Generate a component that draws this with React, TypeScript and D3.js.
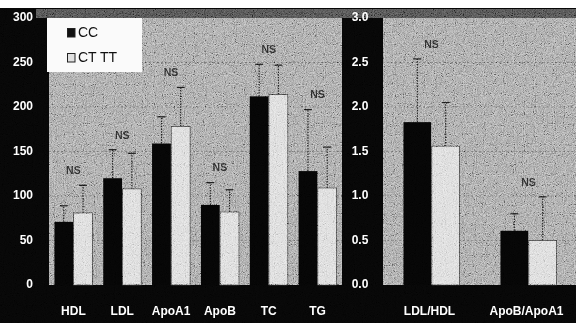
import React from 'react';
import * as d3 from 'd3';

// left panel (mg/dl)
const groupsLeft = ['HDL', 'LDL', 'ApoA1', 'ApoB', 'TC', 'TG'];
const ccLeft = [71, 120, 159, 90, 212, 128];
const ctLeft = [81, 108, 178, 82, 214, 109];
const ccSdLeft = [18, 32, 30, 25, 36, 69];
const ctSdLeft = [31, 40, 44, 25, 33, 46];
const ticksLeft = [0, 50, 100, 150, 200, 250, 300];

// right panel (ratios)
const groupsRight = ['LDL/HDL', 'ApoB/ApoA1'];
const ccRight = [1.83, 0.61];
const ctRight = [1.56, 0.5];
const ccSdRight = [0.71, 0.19];
const ctSdRight = [0.49, 0.49];
const ticksRight = [0, 0.5, 1.0, 1.5, 2.0, 2.5, 3.0];

const seriesNames = ['CC', 'CT TT'];

const W = 576;
const H = 323;
const yTop = 18;
const yBottom = 285;
const font = '"Liberation Sans", Arial, sans-serif';

type PanelProps = {
  groups: string[];
  cc: number[];
  ct: number[];
  ccSd: number[];
  ctSd: number[];
  ticks: number[];
  max: number;
  x0: number;
  x1: number;
  outer: number;
};

function Panel(p: PanelProps) {
  const y = d3.scaleLinear().domain([0, p.max]).range([yBottom, yTop]);
  const x = d3.scaleBand().domain(p.groups).range([p.x0, p.x1]).padding(0);
  const inner = d3.scaleBand().domain(seriesNames).range([0, x.bandwidth()]).paddingInner(0.02).paddingOuter(p.outer);

  return (
    <g>
      <rect x={p.x0} y={yTop} width={p.x1 - p.x0} height={yBottom - yTop} fill="#9a9a9a" />
      {p.ticks.filter(t => t > 0 && t < p.max).map(t => (
        <line key={t} x1={p.x0} x2={p.x1} y1={y(t)} y2={y(t)} stroke="#3a3a3a" strokeWidth={0.8} strokeDasharray="2,2" opacity={0.6} />
      ))}
      {p.groups.map((g, i) => {
        const gx = x(g)!;
        const vals = [p.cc[i], p.ct[i]];
        const sds = [p.ccSd[i], p.ctSd[i]];
        const tops = vals.map((v, j) => v + sds[j]);
        return (
          <g key={g}>
            {seriesNames.map((s, j) => {
              const bx = gx + inner(s)!;
              const bw = inner.bandwidth();
              const cx = bx + bw / 2;
              return (
                <g key={s}>
                  <line x1={cx} x2={cx} y1={y(vals[j])} y2={y(tops[j])} stroke="#1a1a1a" strokeWidth={1.2} strokeDasharray="1.5,1.2" />
                  <line x1={cx - 4} x2={cx + 4} y1={y(tops[j])} y2={y(tops[j])} stroke="#1a1a1a" strokeWidth={1.3} />
                  <rect x={bx} y={y(vals[j])} width={bw} height={yBottom - y(vals[j])}
                    fill={j === 0 ? '#050505' : '#d6d6d6'} stroke={j === 0 ? 'none' : '#333'} strokeWidth={0.8} />
                </g>
              );
            })}
            <text x={gx + x.bandwidth() / 2} y={y(d3.max(tops)!) - 14} textAnchor="middle" dominantBaseline="middle"
              fontFamily={font} fontSize={10.5} fontWeight="bold" fill="#2a2a2a">NS</text>
          </g>
        );
      })}
    </g>
  );
}

export default function App() {
  const yL = d3.scaleLinear().domain([0, 300]).range([yBottom, yTop]);
  const yR = d3.scaleLinear().domain([0, 3]).range([yBottom, yTop]);
  const xL = d3.scaleBand().domain(groupsLeft).range([49, 342]);
  const xR = d3.scaleBand().domain(groupsRight).range([383, 577]);

  return (
    <svg width={W} height={H} style={{ position: 'absolute', left: 0, top: 0 }}>
      <defs>
        <filter id="grain" x="0" y="0" width="100%" height="100%">
          <feTurbulence type="fractalNoise" baseFrequency="1.1" numOctaves={1} seed={3} />
          <feColorMatrix type="matrix" values="1.4 1.4 0 0 -0.9  1.4 1.4 0 0 -0.9  1.4 1.4 0 0 -0.9  0 0 0 0 1" />
        </filter>
      </defs>
      <rect width={W} height={H} fill="#fff" />
      <rect x={0} y={8} width={W} height={H - 8} fill="#060606" />
      <rect x={36} y={9} width={W - 36} height={9} fill="#4a4a4a" />

      <Panel groups={groupsLeft} cc={ccLeft} ct={ctLeft} ccSd={ccSdLeft} ctSd={ctSdLeft}
        ticks={ticksLeft} max={300} x0={49} x1={342} outer={0.28} />
      <Panel groups={groupsRight} cc={ccRight} ct={ctRight} ccSd={ccSdRight} ctSd={ctSdRight}
        ticks={ticksRight} max={3} x0={383} x1={577} outer={0.72} />

      <rect x={0} y={8} width={W} height={H - 8} filter="url(#grain)" opacity={0.55} style={{ mixBlendMode: 'overlay' }} />

      {/* legend */}
      <rect x={47} y={18} width={95} height={54} fill="#fafafa" />
      {seriesNames.map((s, i) => (
        <g key={s}>
          <rect x={67.5} y={28.5 + i * 25} width={7.5} height={8.5} fill={i === 0 ? '#111' : '#e0e0e0'} stroke="#222" strokeWidth={1} />
          <text x={78} y={33 + i * 25} dominantBaseline="middle" fontFamily={font} fontSize={14} fill="#111">{s}</text>
        </g>
      ))}

      {ticksLeft.map(t => (
        <text key={t} x={33} y={yL(t)} textAnchor="end" dominantBaseline="middle" fontFamily={font} fontSize={12} fontWeight="bold" fill="#fff">{t}</text>
      ))}
      {ticksRight.map(t => (
        <text key={t} x={360} y={yR(t)} textAnchor="middle" dominantBaseline="middle" fontFamily={font} fontSize={12} fontWeight="bold" fill="#fff">{d3.format('.1f')(t)}</text>
      ))}
      {groupsLeft.map(g => (
        <text key={g} x={xL(g)! + xL.bandwidth() / 2} y={312} textAnchor="middle" dominantBaseline="middle" fontFamily={font} fontSize={12} fontWeight="bold" fill="#fff">{g}</text>
      ))}
      {groupsRight.map(g => (
        <text key={g} x={xR(g)! + xR.bandwidth() / 2 - 2} y={312} textAnchor="middle" dominantBaseline="middle" fontFamily={font} fontSize={12} fontWeight="bold" fill="#fff">{g}</text>
      ))}
    </svg>
  );
}
